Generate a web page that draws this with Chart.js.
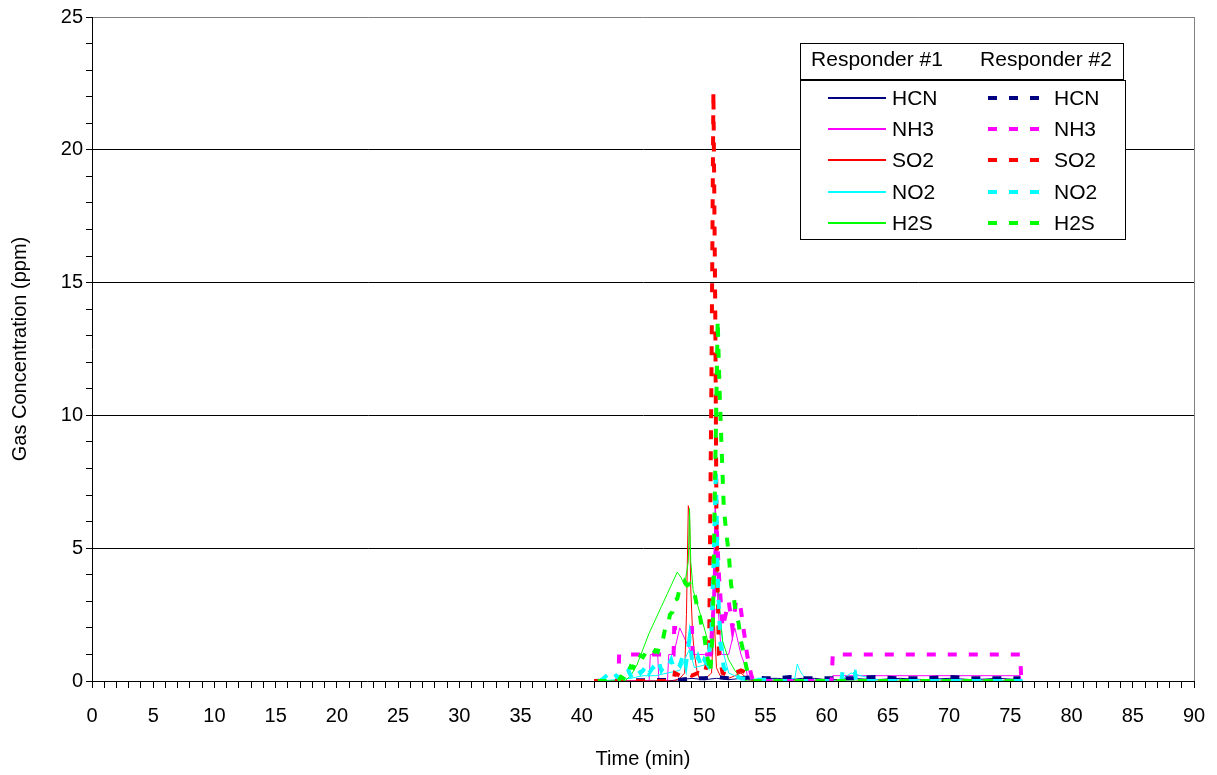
<!DOCTYPE html>
<html>
<head>
<meta charset="utf-8">
<script src="https://cdn.jsdelivr.net/npm/chart.js@4.4.1/dist/chart.umd.min.js"></script>
<style>
  html, body { margin: 0; padding: 0; background: #fff; }
  #wrap { position: relative; width: 1217px; height: 775px; font-family: "Liberation Sans", Arial, sans-serif; }
  #legHead { position: absolute; left: 800px; top: 43px; width: 322px; height: 35px; border: 1px solid #000; border-bottom-width: 2px; background: #fff; }
  #legHead span { position: absolute; top: 3px; font-size: 21px; width: 160px; text-align: center; }
  #legBody { position: absolute; left: 800px; top: 80px; width: 324px; height: 158px; border: 1px solid #000; background: #fff; }
  .row { position: absolute; left: 0; width: 324px; height: 31px; }
  .solid { position: absolute; left: 27px; width: 58px; top: 15px; height: 2px; }
  .dash { position: absolute; left: 187px; width: 51px; top: 14px; height: 4px; }
  .lab { position: absolute; top: 4px; font-size: 21px; }
</style>
</head>
<body>
<div id="wrap">
  <canvas id="chart" width="1217" height="775"></canvas>
  <div id="legHead"><span style="left:-4px">Responder #1</span><span style="left:165px">Responder #2</span></div>
  <div id="legBody"></div>
</div>
<script>
const gases = ["HCN", "NH3", "SO2", "NO2", "H2S"];
const colors = ["#000080", "#FF00FF", "#FF0000", "#00FFFF", "#00FF00"];

// Responder #1 (solid lines)
const r1HcnT = [41, 47, 48, 49, 50, 51, 52, 53, 54, 55, 56, 57, 58, 59, 60, 61, 62, 64, 66, 68, 70, 72, 74, 75.8];
const r1HcnV = [0, 0, 0.05, 0.1, 0.05, 0.1, 0.05, 0.1, 0.05, 0.1, 0.1, 0.05, 0.1, 0.1, 0.05, 0.05, 0.1, 0.05, 0.1, 0.05, 0.1, 0.05, 0.1, 0.05];
const r1Nh3T = [41, 45.5, 45.6, 46.2, 46.3, 47, 47.1, 47.5, 48, 49, 50, 50.7, 50.9, 51.1, 51.4, 52, 52.5, 53, 53.4, 53.6, 60.4, 60.5, 75.8, 75.9];
const r1Nh3V = [0, 0, 1, 1, 0, 0, 1, 1, 2, 1, 1, 1, 7, 3, 1, 1, 2, 1, 0.5, 0, 0, 0.2, 0.2, 0];
const r1So2T = [41, 47.5, 48, 48.4, 48.55, 48.7, 48.8, 48.9, 49.05, 49.2, 49.4, 49.6, 50, 50.6, 50.8, 51, 51.3, 52, 53, 53.5, 54];
const r1So2V = [0, 0, 0.1, 0.3, 2.5, 6.6, 6.2, 3.5, 1.8, 1.0, 0.4, 0.1, 0.05, 0.3, 2.5, 0.5, 0.2, 0.1, 0.3, 0.1, 0];
const r1No2T = [41.5, 44, 45, 46, 47, 48, 48.8, 49.2, 50, 50.6, 50.9, 51.2, 51.6, 52, 53, 55, 56, 57.4, 57.6, 57.8, 58, 58.3, 59, 61, 62, 64, 70, 76];
const r1No2V = [0, 0.1, 0.2, 0.2, 0.3, 0.4, 1.2, 0.5, 0.6, 1.5, 5.4, 3, 1, 0.3, 0.1, 0.05, 0.05, 0.1, 0.64, 0.4, 0.25, 0.1, 0.05, 0, 0.3, 0.05, 0.05, 0];
const r1H2sT = [41.5, 43.5, 44, 44.5, 45, 45.5, 46, 46.5, 47, 47.5, 47.8, 48.1, 48.4, 48.7, 48.8, 48.9, 49.1, 49.5, 50, 50.3, 50.6, 50.8, 51, 51.2, 51.5, 52, 52.5, 53, 53.5, 76];
const r1H2sV = [0, 0, 0.2, 0.6, 1.2, 1.8, 2.3, 2.8, 3.3, 3.8, 4.1, 3.9, 3.6, 4.5, 6.5, 4.5, 3.4, 2.8, 2.0, 1.5, 1.0, 2.5, 5, 3, 1.5, 0.8, 0.4, 0.1, 0, 0];

// Responder #2 (dashed lines)
const r2HcnT = [41, 48, 49, 50, 51, 52, 53, 54, 55, 56, 57, 58, 59, 60, 62, 64, 66, 68, 70, 72, 74, 75.8];
const r2HcnV = [0, 0.05, 0.1, 0.1, 0.15, 0.1, 0.1, 0.15, 0.1, 0.1, 0.15, 0.1, 0.1, 0.1, 0.1, 0.15, 0.1, 0.1, 0.15, 0.1, 0.1, 0.1];
const r2Nh3T = [41, 43, 43.05, 47.5, 47.55, 49, 49.05, 50.5, 50.8, 51.0, 51.2, 51.5, 52.0, 52.3, 52.6, 52.9, 53.2, 53.5, 53.8, 54, 60.4, 60.5, 75.8, 75.9];
const r2Nh3V = [0, 0, 1, 1, 2, 2, 1, 1, 3, 6, 4, 2, 3, 2, 3, 3, 2, 1, 0.3, 0, 0, 1, 1, 0];
const r2So2T = [41, 47.5, 47.6, 48, 48.5, 49, 49.5, 50, 50.4, 50.6, 50.75, 50.9, 51.0, 51.2, 51.5, 52, 52.5, 53, 53.5, 54, 76];
const r2So2V = [0, 0, 0.3, 0.2, 0.3, 0.2, 0.3, 0.2, 1, 12, 22.2, 14, 6, 1, 0.3, 0.2, 0.3, 0.4, 0.3, 0, 0];
const r2No2T = [41.5, 42.3, 42.5, 42.8, 43.0, 43.3, 43.5, 43.8, 44.0, 44.3, 44.5, 44.8, 45.0, 45.3, 45.5, 45.8, 46.0, 46.3, 46.5, 46.8, 47.0, 47.3, 47.5, 47.8, 48.0, 48.3, 48.5, 48.8, 49.0, 49.3, 49.5, 49.8, 50.0, 50.3, 50.6, 50.8, 50.95, 51.1, 51.3, 51.6, 52, 52.5, 53, 54, 55, 56, 61.2, 61.3, 62.3, 62.4, 76];
const r2No2V = [0, 0.3, 0.1, 0.2, 0.1, 0.3, 0.2, 0.4, 0.2, 0.3, 0.5, 0.3, 0.4, 0.6, 0.3, 0.5, 0.4, 0.7, 0.4, 0.6, 0.5, 0.8, 0.5, 0.7, 0.6, 1.0, 0.6, 1.6, 0.8, 0.6, 0.9, 0.5, 0.8, 0.6, 2, 5, 8, 4, 1.5, 0.5, 0.3, 0.2, 0.1, 0.05, 0.05, 0, 0, 0.35, 0.35, 0, 0];
const r2H2sT = [41.3, 43.0, 43.2, 43.4, 43.6, 43.8, 44.0, 44.2, 44.4, 44.6, 44.8, 45.0, 45.2, 45.4, 45.6, 45.8, 46.0, 46.2, 46.4, 46.6, 46.8, 47.0, 47.2, 47.4, 47.6, 47.8, 48.0, 48.2, 48.4, 48.6, 48.8, 49.0, 49.2, 49.4, 49.6, 49.8, 50.0, 50.2, 50.4, 50.5, 50.7, 50.9, 51.1, 51.25, 51.4, 51.6, 51.8, 52.0, 52.2, 52.4, 52.6, 52.8, 53.0, 53.2, 53.4, 53.6, 54, 76];
const r2H2sV = [0, 0, 0.15, 0.1, 0.35, 0.3, 0.55, 0.5, 0.8, 0.75, 0.95, 0.9, 1.05, 0.95, 1.05, 1.0, 1.15, 1.1, 1.45, 1.5, 1.95, 2.0, 2.5, 2.6, 3.05, 3.1, 3.5, 3.55, 3.75, 3.6, 3.65, 3.4, 3.3, 2.85, 2.6, 2.0, 1.7, 1.0, 0.6, 0.3, 2, 8, 13.6, 11, 9, 6.5, 5.6, 4.8, 3.6, 3.2, 2.5, 2.2, 1.5, 1.1, 0.6, 0.2, 0, 0];

const r1Times = [r1HcnT, r1Nh3T, r1So2T, r1No2T, r1H2sT];
const r1Vals = [r1HcnV, r1Nh3V, r1So2V, r1No2V, r1H2sV];
const r2Times = [r2HcnT, r2Nh3T, r2So2T, r2No2T, r2H2sT];
const r2Vals = [r2HcnV, r2Nh3V, r2So2V, r2No2V, r2H2sV];

function pts(t, v) {
    return t.map((x, i) => ({ x: x, y: v[i] }));
}

const datasets = [];
gases.forEach((g, i) => {
    datasets.push({
        label: "R1 " + g, data: pts(r1Times[i], r1Vals[i]),
        borderColor: colors[i], borderWidth: 1, pointRadius: 0, order: 20 - i
    });
});
gases.forEach((g, i) => {
    datasets.push({
        label: "R2 " + g, data: pts(r2Times[i], r2Vals[i]),
        borderColor: colors[i], borderWidth: 4, borderDash: [9, 12], pointRadius: 0, order: 10 - i
    });
});

// legend
const body = document.getElementById("legBody");
gases.forEach((g, i) => {
    const row = document.createElement("div");
    row.className = "row";
    row.style.top = Math.round(1 + i * 31.2) + "px";
    const s = document.createElement("div");
    s.className = "solid";
    s.style.backgroundColor = colors[i];
    const l1 = document.createElement("span");
    l1.className = "lab"; l1.style.left = "91px"; l1.innerText = g;
    const d = document.createElement("div");
    d.className = "dash";
    d.style.background = `repeating-linear-gradient(to right, ${colors[i]} 0px, ${colors[i]} 9px, transparent 9px, transparent 21px)`;
    const l2 = document.createElement("span");
    l2.className = "lab"; l2.style.left = "253px"; l2.innerText = g;
    row.append(s, l1, d, l2);
    body.append(row);
});

const font = { family: "'Liberation Sans', Arial, sans-serif", size: 20 };

new Chart(document.getElementById("chart"), {
    type: "line",
    data: { datasets: datasets },
    options: {
        responsive: false,
        animation: false,
        layout: { padding: { top: 17, right: 23, left: 0, bottom: 0 } },
        plugins: { legend: { display: false }, tooltip: { enabled: false } },
        scales: {
            x: {
                type: "linear", min: 0, max: 90,
                afterFit: s => { s.height = 94; s.paddingLeft = 0; s.paddingRight = 0; },
                ticks: {
                    stepSize: 1, autoSkip: false, maxRotation: 0, color: "#000", font: font, padding: 16,
                    callback: v => (v % 5 === 0 ? v : "")
                },
                grid: {
                    color: c => (c.tick && c.tick.value === 90 ? "#808080" : "rgba(0,0,0,0)"),
                    tickColor: "#000", tickLength: 7
                },
                border: { color: "#000" },
                title: { display: true, text: "Time (min)", color: "#000", font: font, padding: { top: 4, bottom: 4 } }
            },
            y: {
                min: 0, max: 25,
                afterFit: s => { s.width = 92; },
                ticks: {
                    stepSize: 1, autoSkip: false, color: "#000", font: font, padding: 3,
                    callback: v => (v % 5 === 0 ? v : "")
                },
                grid: {
                    color: c => {
                        const v = c.tick ? c.tick.value : -1;
                        if (v === 25) return "#808080";
                        if (v > 0 && v % 5 === 0) return "#000";
                        return "rgba(0,0,0,0)";
                    },
                    tickColor: "#000", tickLength: 6
                },
                border: { color: "#000" },
                title: { display: true, text: "Gas Concentration (ppm)", color: "#000", font: font, padding: { top: 8, bottom: 26 } }
            }
        }
    }
});
</script>
</body>
</html>
